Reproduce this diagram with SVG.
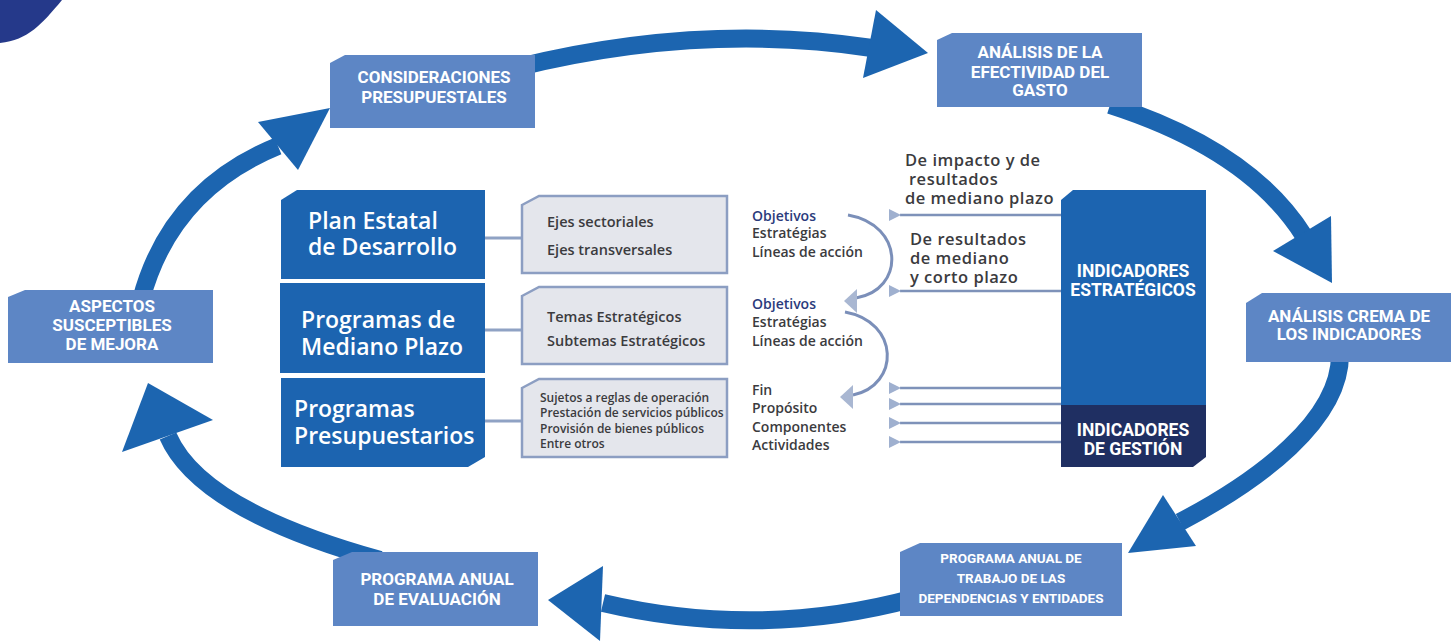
<svg xmlns="http://www.w3.org/2000/svg" width="1455" height="643" viewBox="0 0 1455 643">
<defs>
<style>
.cyc{fill:none;stroke:#1c65b0;stroke-width:18}
.head{fill:#1c65b0}
.lb{fill:#5d86c5}
.db{fill:#1c64b0}
.nv{fill:#1f2f62}
.gb{fill:#e4e6ec;stroke:#8c9ec2;stroke-width:2.5}
.con{stroke:#8fa2c4;stroke-width:3}
.wc{font-family:Roboto,"Liberation Sans",sans-serif;font-weight:700;fill:#fff;text-anchor:middle}
.big{font-family:"Open Sans","Liberation Sans",sans-serif;font-weight:600;font-size:23px;fill:#fff}
.gt{font-family:"Open Sans","Liberation Sans",sans-serif;font-weight:600;fill:#3b3b3e}
.lab{font-size:16.5px;letter-spacing:0.5px}
.obj{fill:#2b3b7c}
.hl{stroke:#7e92b9;stroke-width:2.5;fill:none}
.cv{stroke:#7b8fb9;stroke-width:3;fill:none}
.ah{fill:#a9b7d2}
</style>
<marker id="la" viewBox="0 0 12 12" refX="1" refY="6" markerWidth="12" markerHeight="12" markerUnits="userSpaceOnUse" orient="auto">
<path d="M12,0 L0,6 L12,12 Z" fill="#9fb0cf"/>
</marker>
</defs>
<path d="M0,0 L62,0 C42,24 28,40 0,43 Z" fill="#25398a"/>
<g id="connectors">
<path class="cyc" d="M515 68 Q700 22 872 48"/>
<polygon class="head" points="876,10 928,53 863,78"/>
<path class="cyc" d="M1110 105 Q1250 150 1304 236"/>
<polygon class="head" points="1331,216 1332,283 1273,251"/>
<path class="cyc" d="M1340 355 C1340 420 1260 480 1180 522"/>
<polygon class="head" points="1163,495 1196,546 1128,553"/>
<path class="cyc" d="M915 598 Q760 640 603 603"/>
<polygon class="head" points="603,566 600,641 548,600"/>
<path class="cyc" d="M380 560 Q200 510 168 436"/>
<polygon class="head" points="213,420 122,452 148,383"/>
<path class="cyc" d="M141 300 Q170 190 278 146"/>
<polygon class="head" points="258,122 298,170 330,108"/>
<line class="con" x1="485" y1="238" x2="522" y2="238"/>
<line class="con" x1="485" y1="330" x2="522" y2="330"/>
<line class="con" x1="485" y1="421" x2="522" y2="421"/>
<line class="hl" x1="1061" y1="215" x2="900" y2="215" marker-end="url(#la)"/>
<line class="hl" x1="1061" y1="291" x2="900" y2="291" marker-end="url(#la)"/>
<line class="hl" x1="1061" y1="388" x2="900" y2="388" marker-end="url(#la)"/>
<line class="hl" x1="1061" y1="404" x2="900" y2="404" marker-end="url(#la)"/>
<line class="hl" x1="1061" y1="423" x2="900" y2="423" marker-end="url(#la)"/>
<line class="hl" x1="1061" y1="442" x2="900" y2="442" marker-end="url(#la)"/>
<path class="cv" d="M848 215 C905 225 905 290 856 298"/>
<polygon class="ah" points="844,301 857,289 857,313"/>
<path class="cv" d="M845 312 C900 322 900 385 853 395"/>
<polygon class="ah" points="840,397 853,385 853,409"/>
</g>
<g id="consideraciones">
<path class="lb" d="M330,63 L345,55 L535,55 L535,128 L330,128 Z"/>
<text class="wc" font-size="17" x="434" y="83">CONSIDERACIONES</text>
<text class="wc" font-size="17" x="434" y="103">PRESUPUESTALES</text>
</g>
<g id="analisis-efectividad">
<path class="lb" d="M937,40 L952,33 L1142,33 L1142,107 L937,107 Z"/>
<text class="wc" font-size="17" x="1040" y="58">ANÁLISIS DE LA</text>
<text class="wc" font-size="17" x="1040" y="78">EFECTIVIDAD DEL</text>
<text class="wc" font-size="17" x="1040" y="96">GASTO</text>
</g>
<g id="analisis-crema">
<path class="lb" d="M1246,303 L1262,293 L1451,293 L1451,362 L1246,362 Z"/>
<text class="wc" font-size="17" x="1349" y="322">ANÁLISIS CREMA DE</text>
<text class="wc" font-size="17" x="1349" y="340">LOS INDICADORES</text>
</g>
<g id="programa-trabajo">
<path class="lb" d="M900,552 L920,543 L1122,543 L1122,616 L900,616 Z"/>
<text class="wc" font-size="13.5" x="1011" y="563">PROGRAMA ANUAL DE</text>
<text class="wc" font-size="13.5" x="1011" y="583">TRABAJO DE LAS</text>
<text class="wc" font-size="13.5" x="1011" y="603">DEPENDENCIAS Y ENTIDADES</text>
</g>
<g id="programa-evaluacion">
<path class="lb" d="M333,560 L352,552 L538,552 L538,626 L333,626 Z"/>
<text class="wc" font-size="17" x="437" y="585">PROGRAMA ANUAL</text>
<text class="wc" font-size="17" x="437" y="605">DE EVALUACIÓN</text>
</g>
<g id="aspectos">
<path class="lb" d="M8,297 L25,290 L213,290 L213,363 L8,363 Z"/>
<text class="wc" font-size="17" x="112" y="312">ASPECTOS</text>
<text class="wc" font-size="17" x="112" y="331">SUSCEPTIBLES</text>
<text class="wc" font-size="17" x="112" y="350">DE MEJORA</text>
</g>
<g id="plan-estatal">
<path class="db" d="M281,200 L297,190 L485,190 L485,279 L281,279 Z"/>
<text class="big" x="308" y="229">Plan Estatal</text>
<text class="big" x="308" y="255">de Desarrollo</text>
</g>
<g id="programas-mediano">
<rect class="db" x="280" y="283" width="205" height="90"/>
<text class="big" x="301" y="328">Programas de</text>
<text class="big" x="301" y="355">Mediano Plazo</text>
</g>
<g id="programas-presupuestarios">
<path class="db" d="M281,378 L485,378 L485,457 L468,467 L281,467 Z"/>
<text class="big" x="294" y="417">Programas</text>
<text class="big" x="294" y="444">Presupuestarios</text>
</g>
<g id="ejes">
<path class="gb" d="M522,205 L539,196 L727,196 L727,273 L522,273 Z"/>
<text class="gt" font-size="14.5" x="547" y="227">Ejes sectoriales</text>
<text class="gt" font-size="14.5" x="547" y="255">Ejes transversales</text>
</g>
<g id="temas">
<path class="gb" d="M522,296 L539,287 L727,287 L727,364 L522,364 Z"/>
<text class="gt" font-size="14.5" x="547" y="322">Temas Estratégicos</text>
<text class="gt" font-size="14.5" x="547" y="346">Subtemas Estratégicos</text>
</g>
<g id="sujetos">
<path class="gb" d="M522,388 L539,379 L727,379 L727,457 L522,457 Z"/>
<text class="gt" font-size="12" x="540" y="402">Sujetos a reglas de operación</text>
<text class="gt" font-size="12" x="540" y="417">Prestación de servicios públicos</text>
<text class="gt" font-size="12" x="540" y="433">Provisión de bienes públicos</text>
<text class="gt" font-size="12" x="540" y="448">Entre otros</text>
</g>
<g id="objetivos-1">
<text class="gt obj" font-size="14" x="752" y="221">Objetivos</text>
<text class="gt" font-size="14" x="752" y="238">Estratégias</text>
<text class="gt" font-size="14" x="752" y="257">Líneas de acción</text>
</g>
<g id="objetivos-2">
<text class="gt obj" font-size="14" x="752" y="309">Objetivos</text>
<text class="gt" font-size="14" x="752" y="327">Estratégias</text>
<text class="gt" font-size="14" x="752" y="346">Líneas de acción</text>
</g>
<g id="fin">
<text class="gt" font-size="14" x="752" y="395">Fin</text>
<text class="gt" font-size="14" x="752" y="413">Propósito</text>
<text class="gt" font-size="14" x="752" y="432">Componentes</text>
<text class="gt" font-size="14" x="752" y="450">Actividades</text>
</g>
<g id="label-impacto">
<text class="gt lab" x="905" y="166">De impacto y de</text>
<text class="gt lab" x="909" y="185">resultados</text>
<text class="gt lab" x="905" y="204">de mediano plazo</text>
</g>
<g id="label-resultados">
<text class="gt lab" x="910" y="245">De resultados</text>
<text class="gt lab" x="910" y="264">de mediano</text>
<text class="gt lab" x="910" y="283">y corto plazo</text>
</g>
<g id="indicadores">
<path class="db" d="M1061,200 L1073,190 L1206,190 L1206,405 L1061,405 Z"/>
<path class="nv" d="M1061,405 L1206,405 L1206,457 L1193,467 L1061,467 Z"/>
<text class="wc" font-size="17.5" x="1133" y="277">INDICADORES</text>
<text class="wc" font-size="17.5" x="1133" y="296">ESTRATÉGICOS</text>
<text class="wc" font-size="17.5" x="1133" y="436">INDICADORES</text>
<text class="wc" font-size="17.5" x="1133" y="455">DE GESTIÓN</text>
</g>
</svg>
